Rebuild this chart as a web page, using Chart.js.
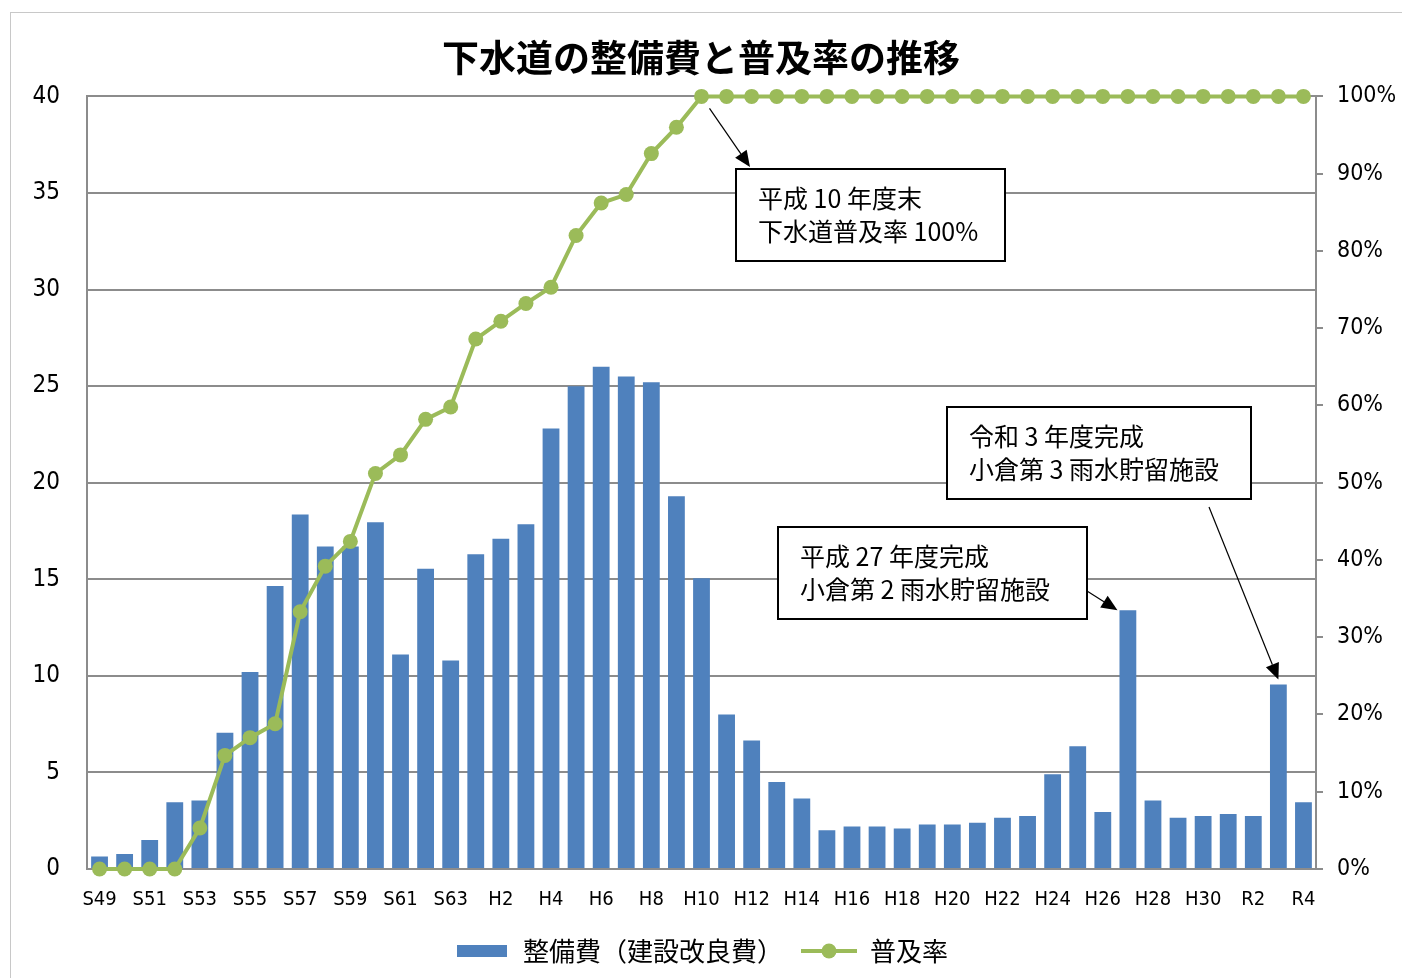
<!DOCTYPE html>
<html lang="ja">
<head>
<meta charset="utf-8">
<title>下水道の整備費と普及率の推移</title>
<script src="https://cdn.jsdelivr.net/npm/chart.js@4.4.1/dist/chart.umd.min.js"></script>
<style>
  html, body { margin: 0; padding: 0; background: #fff; overflow: hidden; }
  #frame { position: absolute; left: 10px; top: 12px; width: 1420px; height: 1000px; border: 1px solid #c8c8c8; }
  #wrap  { position: absolute; left: 0; top: 0; width: 1402px; height: 978px; }
</style>
</head>
<body>
<div id="frame"></div>
<div id="wrap"><canvas id="chart" width="1402" height="978"></canvas></div>
<script>
/* 下水道の整備費と普及率の推移 — Chart.js */

// ── Data ───────────────────────────────────────────────────
const YEARS = [
  'S49','S50','S51','S52','S53','S54','S55','S56','S57','S58','S59','S60','S61','S62','S63',
  'H1','H2','H3','H4','H5','H6','H7','H8','H9','H10',
  'H11','H12','H13','H14','H15','H16','H17','H18','H19','H20',
  'H21','H22','H23','H24','H25','H26','H27','H28','H29','H30',
  'R1','R2','R3','R4',
];

// 整備費（建設改良費）
const COST = [
  0.65, 0.78, 1.5, 3.45, 3.55, 7.05, 10.2, 14.65, 18.35, 16.7, 16.7, 17.95, 11.1, 15.55, 10.8,
  16.3, 17.1, 17.85, 22.8, 25.0, 26.0, 25.5, 25.2, 19.3, 15.05,
  8.0, 6.65, 4.5, 3.65, 2.0, 2.2, 2.2, 2.1, 2.3, 2.3,
  2.4, 2.65, 2.75, 4.9, 6.35, 2.95, 13.4, 3.55, 2.65, 2.75,
  2.85, 2.75, 9.55, 3.45,
];

// 普及率 (%)
const RATE = [
  0, 0, 0, 0, 5.3, 14.7, 17.0, 18.8, 33.3, 39.2, 42.4, 51.2, 53.6, 58.2, 59.8,
  68.6, 70.9, 73.2, 75.3, 82.0, 86.2, 87.3, 92.6, 96.0, 100,
  100, 100, 100, 100, 100, 100, 100, 100, 100, 100,
  100, 100, 100, 100, 100, 100, 100, 100, 100, 100,
  100, 100, 100, 100,
];

const COST_TICKS = { min: 0, max: 40, step: 5 };
const RATE_TICKS = { min: 0, max: 100, step: 10 };

const LEGEND_LABELS = ['整備費（建設改良費）', '普及率'];

const NOTES = [
  { lines: ['平成 10 年度末', '下水道普及率 100%'], year: 'H10', ds: 1 },
  { lines: ['令和 3 年度完成', '小倉第 3 雨水貯留施設'], year: 'R3', ds: 0 },
  { lines: ['平成 27 年度完成', '小倉第 2 雨水貯留施設'], year: 'H27', ds: 0 },
];

// ── Style ──────────────────────────────────────────────────
const BAR_COLOR  = '#4F81BD';
const LINE_COLOR = '#9BBB59';
const GRID_COLOR = '#8c8c8c';
const NARROW = "'Liberation Sans Narrow', 'DejaVu Sans Condensed', 'Liberation Sans', sans-serif";
const CJK    = "'Noto Sans CJK JP', 'Noto Sans', sans-serif";

// box placement of each note (pixels) and the arrow ends
const NOTE_LAYOUT = [
  { box: { x: 736, y: 169, w: 269, h: 92 },
    tail: (b, el) => [el.x + 8, el.y + 12],
    head: (b, el) => [b.x + 14, b.y - 2] },
  { box: { x: 947, y: 407, w: 304, h: 92 },
    tail: (b, el) => [b.x + 262, b.y + b.h + 8],
    head: (b, el) => [el.x, el.y - 5] },
  { box: { x: 778, y: 527, w: 309, h: 92 },
    tail: (b, el) => [b.x + b.w, b.y + 64],
    head: (b, el) => [el.x - el.width / 2 - 2, el.y] },
];

// ── Legend swatches ────────────────────────────────────────
function swatch(kind) {
  const c = document.createElement('canvas');
  c.width = 56; c.height = 18;
  const g = c.getContext('2d');
  if (kind === 'bar') {
    g.fillStyle = BAR_COLOR;
    g.fillRect(3, 3, 50, 12);
  } else {
    g.strokeStyle = LINE_COLOR;
    g.lineWidth = 4;
    g.beginPath(); g.moveTo(0, 9); g.lineTo(56, 9); g.stroke();
    g.fillStyle = LINE_COLOR;
    g.beginPath(); g.arc(28, 9, 7.5, 0, Math.PI * 2); g.fill();
  }
  return c;
}

// ── Annotation plugin ──────────────────────────────────────
function arrow(ctx, x1, y1, x2, y2) {
  const a = Math.atan2(y2 - y1, x2 - x1);
  const len = 16, half = 7;
  const bx = x2 - len * Math.cos(a), by = y2 - len * Math.sin(a);
  ctx.strokeStyle = '#000';
  ctx.lineWidth = 1.2;
  ctx.beginPath(); ctx.moveTo(x1, y1); ctx.lineTo(bx, by); ctx.stroke();
  ctx.fillStyle = '#000';
  ctx.beginPath();
  ctx.moveTo(x2, y2);
  ctx.lineTo(bx + half * Math.sin(a), by - half * Math.cos(a));
  ctx.lineTo(bx - half * Math.sin(a), by + half * Math.cos(a));
  ctx.closePath(); ctx.fill();
}

const notesPlugin = {
  id: 'notes',
  afterDraw(chart) {
    const { ctx } = chart;
    NOTES.forEach((note, i) => {
      const lay = NOTE_LAYOUT[i];
      const b = lay.box;
      const el = chart.getDatasetMeta(note.ds).data[YEARS.indexOf(note.year)];
      ctx.save();
      ctx.fillStyle = '#fff';
      ctx.fillRect(b.x, b.y, b.w, b.h);
      ctx.strokeStyle = '#000';
      ctx.lineWidth = 2;
      ctx.strokeRect(b.x, b.y, b.w, b.h);
      ctx.fillStyle = '#000';
      ctx.font = `25px ${CJK}`;
      ctx.textBaseline = 'middle';
      note.lines.forEach((t, k) => ctx.fillText(t, b.x + 22, b.y + 29 + k * 33));
      const [tx, ty] = lay.tail(b, el);
      const [hx, hy] = lay.head(b, el);
      arrow(ctx, tx, ty, hx, hy);
      ctx.restore();
    });
  },
};

// ── Chart ──────────────────────────────────────────────────
Chart.defaults.color = '#000';
Chart.defaults.font.family = NARROW;

const swatches = [swatch('bar'), swatch('line')];

new Chart(document.getElementById('chart'), {
  type: 'bar',
  data: {
    labels: YEARS,
    datasets: [
      {
        type: 'bar',
        label: LEGEND_LABELS[0],
        data: COST,
        yAxisID: 'y',
        backgroundColor: BAR_COLOR,
        borderWidth: 0,
        categoryPercentage: 1,
        barPercentage: 0.67,
        order: 1,
      },
      {
        type: 'line',
        label: LEGEND_LABELS[1],
        data: RATE,
        yAxisID: 'y1',
        borderColor: LINE_COLOR,
        backgroundColor: LINE_COLOR,
        borderWidth: 4,
        pointRadius: 7.5,
        pointBorderWidth: 0,
        pointBackgroundColor: LINE_COLOR,
        tension: 0,
        clip: false,
        order: 0,
      },
    ],
  },
  options: {
    responsive: false,
    animation: false,
    layout: { padding: { top: 0, left: 0, right: 0, bottom: 4 } },
    plugins: {
      title: {
        display: true,
        text: '下水道の整備費と普及率の推移',
        color: '#000',
        font: { family: CJK, size: 37, weight: 'bold' },
        padding: { top: 36, bottom: 16 },
      },
      legend: {
        position: 'bottom',
        labels: {
          font: { family: CJK, size: 26 },
          color: '#000',
          usePointStyle: true,
          pointStyleWidth: 56,
          padding: 18,
          generateLabels: () => LEGEND_LABELS.map((text, i) => ({
            text,
            datasetIndex: i,
            pointStyle: swatches[i],
            fillStyle: 'transparent',
            strokeStyle: 'transparent',
            lineWidth: 0,
          })),
        },
      },
      tooltip: { enabled: false },
    },
    scales: {
      x: {
        grid: { display: false, drawTicks: false },
        border: { color: GRID_COLOR, width: 2 },
        ticks: {
          autoSkip: false,
          maxRotation: 0,
          padding: 19,
          font: { size: 20 },
          callback: (v, i) => (i % 2 === 0 ? YEARS[i] : ''),
        },
        afterFit: s => { s.height = 51; },
      },
      y: {
        position: 'left',
        min: COST_TICKS.min,
        max: COST_TICKS.max,
        grid: { color: GRID_COLOR, lineWidth: 2, drawTicks: false },
        border: { color: GRID_COLOR, width: 2 },
        ticks: { stepSize: COST_TICKS.step, padding: 27, font: { size: 24 } },
        afterFit: s => { s.width = 87; },
      },
      y1: {
        position: 'right',
        min: RATE_TICKS.min,
        max: RATE_TICKS.max,
        grid: { drawOnChartArea: false, color: GRID_COLOR, lineWidth: 2, tickLength: 7 },
        border: { color: GRID_COLOR, width: 2 },
        ticks: {
          stepSize: RATE_TICKS.step,
          padding: 14,
          font: { size: 23 },
          callback: v => `${v}%`,
        },
        afterFit: s => { s.width = 86; },
      },
    },
  },
  plugins: [notesPlugin],
});
</script>
</body>
</html>
